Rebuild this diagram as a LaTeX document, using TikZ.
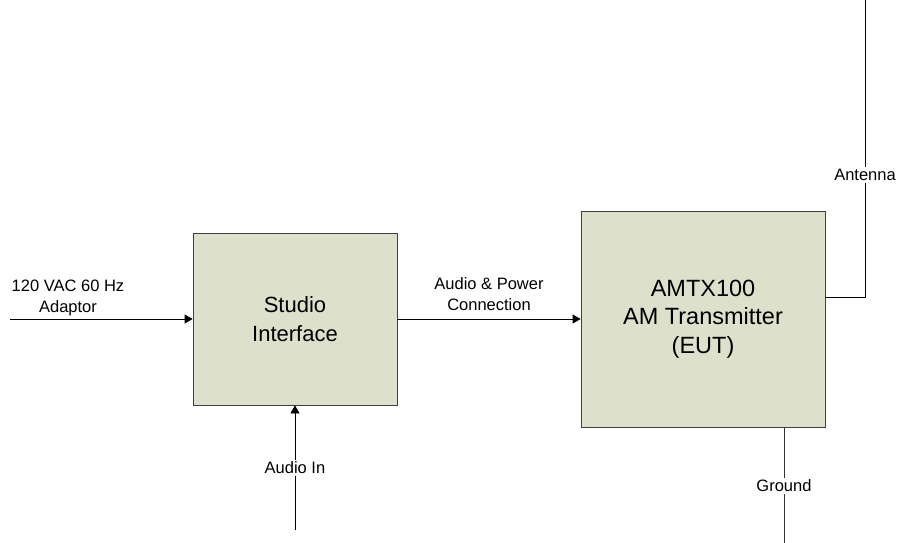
\documentclass[tikz,border=0pt]{standalone}
\usepackage{fontspec}
\setmainfont{Liberation Sans}
\usetikzlibrary{arrows.meta}
\definecolor{boxfill}{RGB}{221,224,203}
\tikzset{
  block/.style={draw=black!75,line width=0.8pt,fill=boxfill,minimum width=204pt,minimum height=172pt,align=center,font=\fontsize{22}{28.5}\selectfont},
  lbl/.style={font=\fontsize{16.5}{21}\selectfont,align=center,inner sep=2pt},
  wire/.style={line width=0.8pt},
  feed/.style={wire,-{Triangle[length=8pt,width=9pt]}}
}
\begin{document}
\begin{tikzpicture}[x=1pt,y=-1pt]
\useasboundingbox (0,0) rectangle (898,543);
     \node[block] (studio) at (295,319) {Studio\\Interface};
     \node[block,minimum width=244pt,minimum height=216pt,font=\fontsize{23.5}{28.5}\selectfont] (amtx) at (703,319) {AMTX100\\AM Transmitter\\(EUT)};
% free ends
\coordinate (mains) at (10,319);
\coordinate (audio) at (295,530);
\coordinate (antfeed) at (825,297);
\coordinate (ant) at (865,0);
\coordinate (gnd) at (784,543);
        \node[lbl] (mainslbl) at (68,298) {120 VAC 60 Hz\\Adaptor};
        \node[lbl] (linklbl) at (489,294) {Audio \& Power\\Connection};
        \node[lbl] (antlbl) at (865,175) {Antenna};
        \node[lbl] (gndlbl) at (784,486) {Ground};
        \node[lbl] (audiolbl) at (295,468) {Audio In};
\draw[feed] (mains) -- (studio.west);
\draw[feed] (studio.east) -- (amtx.west);
\draw[feed] (audiolbl.north) -- (studio.south);
\draw[wire] (audio) -- (audiolbl.south);
\draw[wire] (antfeed) -| (antlbl.south);
\draw[wire] (antlbl.north) -- (ant);
\draw[wire,black!80] (amtx.south -| gnd) -- (gndlbl.north);
\draw[wire,black!80] (gndlbl.south) -- (gnd);
    \end{tikzpicture}
\end{document}
